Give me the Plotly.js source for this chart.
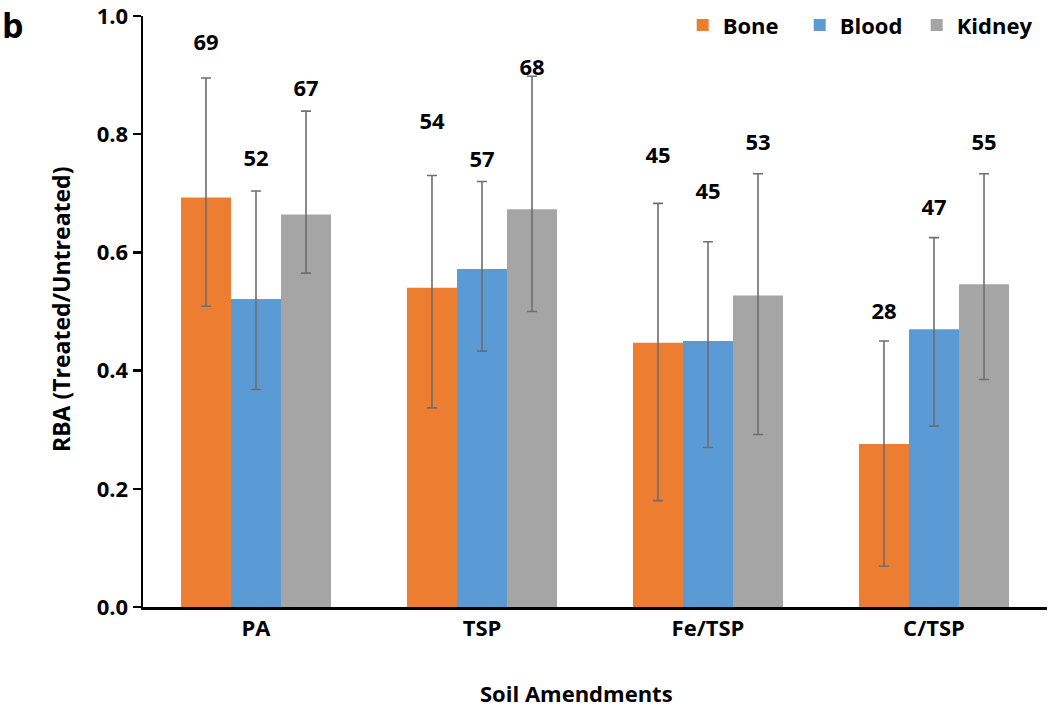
<!DOCTYPE html>
<html><head><meta charset="utf-8">
<script src="https://cdn.plot.ly/plotly-3.0.1.min.js"></script>
<style>html,body{margin:0;padding:0;background:#fff}</style>
</head><body>
<div id="chart" style="width:1050px;height:710px"></div>
<script>
var categories = ["PA", "TSP", "Fe/TSP", "C/TSP"];
var boneValues = [0.693, 0.540, 0.447, 0.276];
var boneErrUp = [0.895, 0.730, 0.683, 0.450];
var boneErrLow = [0.509, 0.337, 0.180, 0.069];
var bloodValues = [0.521, 0.572, 0.450, 0.470];
var bloodErrUp = [0.704, 0.720, 0.618, 0.625];
var bloodErrLow = [0.368, 0.433, 0.270, 0.306];
var kidneyValues = [0.664, 0.673, 0.527, 0.546];
var kidneyErrUp = [0.839, 0.898, 0.733, 0.733];
var kidneyErrLow = [0.565, 0.500, 0.292, 0.385];
var boneLabels = ["69", "54", "45", "28"];
var bloodLabels = ["52", "57", "45", "47"];
var kidneyLabels = ["67", "68", "53", "55"];
var boneLabelY = [0.952, 0.818, 0.760, 0.497];
var bloodLabelY = [0.756, 0.753, 0.700, 0.673];
var kidneyLabelY = [0.874, 0.910, 0.782, 0.782];
var yTickVals = [0, 0.2, 0.4, 0.6, 0.8, 1.0];
var yTickText = ["0.0", "0.2", "0.4", "0.6", "0.8", "1.0"];

var FONT = "'Open Sans', 'Noto Sans', sans-serif";
var idx = categories.map(function(c, i){ return i; });
var bargap = 0.336;
var bw = (1 - bargap) / 3;

function barTrace(name, vals, up, low, color) {
  return {
    type: "bar", name: name, x: idx, y: vals,
    marker: {color: color},
    error_y: {type: "data", symmetric: false,
      array: vals.map(function(v, i){ return up[i] - v; }),
      arrayminus: vals.map(function(v, i){ return v - low[i]; }),
      color: "#6e6e6e", thickness: 1.6, width: 5},
    hoverinfo: "skip"
  };
}
function labelTrace(labels, ys, off) {
  return {
    type: "scatter", mode: "text", showlegend: false,
    x: idx.map(function(i){ return i + off; }), y: ys, text: labels,
    textposition: "middle center", cliponaxis: false,
    textfont: {family: FONT, size: 22, color: "#000", weight: 700},
    hoverinfo: "skip"
  };
}

var data = [
  barTrace("Bone", boneValues, boneErrUp, boneErrLow, "#ED7D31"),
  barTrace("Blood", bloodValues, bloodErrUp, bloodErrLow, "#5B9BD5"),
  barTrace("Kidney", kidneyValues, kidneyErrUp, kidneyErrLow, "#A5A5A5"),
  labelTrace(boneLabels, boneLabelY, -bw),
  labelTrace(bloodLabels, bloodLabelY, 0),
  labelTrace(kidneyLabels, kidneyLabelY, bw)
];

var layout = {
  width: 1050, height: 710,
  margin: {l: 143, r: 3, t: 16, b: 103, autoexpand: false},
  paper_bgcolor: "#fff", plot_bgcolor: "#fff",
  barmode: "group", bargap: bargap, bargroupgap: 0,
  font: {family: FONT, color: "#000"},
  showlegend: true,
  legend: {orientation: "h", x: 0.597, xanchor: "left", y: 1.02, yanchor: "top",
    font: {family: FONT, size: 22, weight: 700, color: "#000"},
    bgcolor: "rgba(0,0,0,0)", traceorder: "normal", itemwidth: 30,
    entrywidth: 72, entrywidthmode: "pixels"},
  xaxis: {
    range: [-0.5, 3.5], tickvals: idx, ticktext: categories,
    showgrid: false, zeroline: false, showline: true, linecolor: "#000", linewidth: 2.5,
    ticks: "", tickfont: {family: FONT, size: 22, weight: 700}
  },
  yaxis: {
    range: [0, 1.0], tickvals: yTickVals, ticktext: yTickText,
    ticklabeloverflow: "allow",
    showgrid: false, zeroline: false, showline: true, linecolor: "#000", linewidth: 2.5,
    ticks: "outside", ticklen: 8, tickwidth: 2.5, tickcolor: "#000",
    tickfont: {family: FONT, size: 22, weight: 700}
  },
  annotations: [
    {text: "b", xref: "paper", yref: "paper", x: -0.158, y: 1.0, xanchor: "left", yanchor: "top",
      showarrow: false, font: {family: FONT, size: 34, weight: 700, color: "#000"}, yshift: 16},
    {text: "Soil Amendments", xref: "paper", yref: "paper", x: 0.479, y: -0.1743, xanchor: "center", yanchor: "bottom",
      showarrow: false, font: {family: FONT, size: 22, weight: 700, color: "#000"}},
    {text: "RBA (Treated/Untreated)", xref: "paper", yref: "paper", x: -0.0907, y: 0.5025, xanchor: "center", yanchor: "middle",
      textangle: -90, showarrow: false, font: {family: FONT, size: 23, weight: 700, color: "#000"}}
  ]
};

Plotly.newPlot("chart", data, layout, {displayModeBar: false, staticPlot: true});
</script>
</body></html>
